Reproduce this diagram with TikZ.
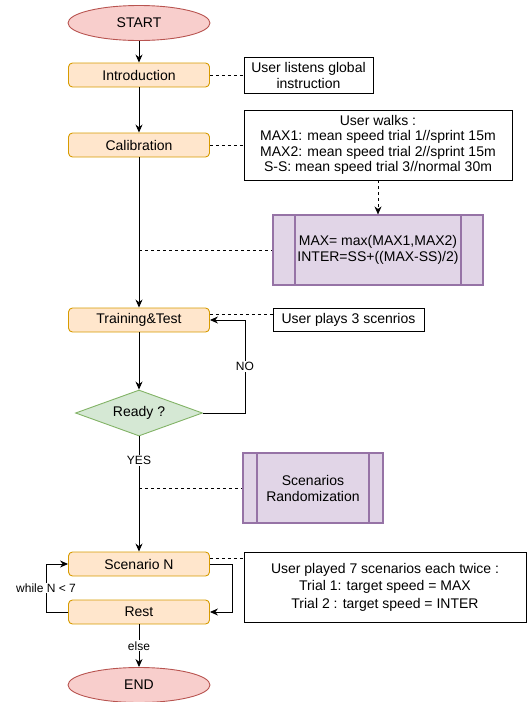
\documentclass[tikz,border=0pt]{standalone}
\usepackage{fontspec}
\setmainfont{Liberation Sans}
\usetikzlibrary{shapes.geometric,arrows.meta}
\definecolor{stepfill}{HTML}{FFE6CC}
\definecolor{stepdraw}{HTML}{D79B00}
\definecolor{termfill}{HTML}{F8CECC}
\definecolor{termdraw}{HTML}{B85450}
\definecolor{askfill}{HTML}{D5E8D4}
\definecolor{askdraw}{HTML}{82B366}
\definecolor{calcfill}{HTML}{E1D5E7}
\definecolor{calcdraw}{HTML}{9673A6}
\begin{document}
\begin{tikzpicture}[x=1pt,y=-1pt,
        font=\fontsize{14}{16}\selectfont,
        line width=0.9pt,
        >={Stealth[length=8pt,width=7pt]},
        stepbox/.style={draw=stepdraw,fill=stepfill,rounded corners=4pt,
            minimum width=141pt,minimum height=24pt,inner sep=0pt},
        termbox/.style={ellipse,draw=termdraw,fill=termfill,
            minimum width=142pt,minimum height=35pt,inner sep=0pt},
        askbox/.style={diamond,draw=askdraw,fill=askfill,aspect=2.76,
            minimum width=127pt,minimum height=46pt,inner sep=0pt},
        notebox/.style={draw,fill=white,align=center,inner sep=0pt,line width=0.8pt},
        calcbox/.style={draw=calcdraw,fill=calcfill,align=center,inner sep=0pt,
            line width=1.2pt,
            path picture={\draw[calcdraw,line width=1.2pt]
                ([xshift=#1]path picture bounding box.north west) --
                ([xshift=#1]path picture bounding box.south west)
                ([xshift=-#1]path picture bounding box.north east) --
                ([xshift=-#1]path picture bounding box.south east);}},
        lbl/.style={fill=white,inner sep=1pt,font=\fontsize{12}{14}\selectfont}]
    \useasboundingbox (0,0) rectangle (527,702);

    % main flow
    \node[termbox] (start) at (139,23) {START};
    \node[stepbox] (intro) at (139,75) {Introduction};
    \node[stepbox] (calib) at (139,145) {Calibration};
    \node[stepbox] (train) at (139,320) {Training\&Test};
    \node[askbox] (ready) at (139,413) {Ready ?};
    \node[stepbox] (scen) at (139,564) {Scenario N};
    \node[stepbox] (rest) at (139,612) {Rest};
    \node[termbox] (end) at (139,685) {END};

    % side notes
    \node[notebox,minimum width=129pt,minimum height=36pt] (listen) at (308.5,75)
        {User listens global\\instruction};
    \node[notebox,minimum width=268pt,minimum height=70pt,
        font=\fontsize{14}{15.5}\selectfont] (walks) at (378,145)
        {User walks :\\MAX1: mean speed trial 1//sprint 15m\\
         MAX2: mean speed trial 2//sprint 15m\\S-S: mean speed trial 3//normal 30m};
    \node[calcbox=22pt,minimum width=210pt,minimum height=70pt] (maxbox) at (378,250)
        {MAX= max(MAX1,MAX2)\\INTER=SS+((MAX-SS)/2)};
    \node[notebox,minimum width=151pt,minimum height=23pt] (plays) at (348.5,319.5)
        {User plays 3 scenrios};
    \node[calcbox=14pt,minimum width=140pt,minimum height=70pt] (random) at (313,488)
        {Scenarios\\Randomization};
    \node[notebox,minimum width=282pt,minimum height=70pt,
        font=\fontsize{14}{17.5}\selectfont] (played) at (385,587)
        {User played 7 scenarios each twice :\\Trial 1: target speed = MAX\\
         Trial 2 : target speed = INTER};

    % arrows
    \draw[->] (start) -- (intro);
    \draw[->] (intro) -- (calib);
    \draw[->] (calib) -- (train);
    \draw[->] (train) -- (ready);
    \draw[->] (ready) -- node[lbl,pos=0.21] {YES} (scen);
    \draw[->] (ready.east) -- ++(42,0) |- node[lbl,pos=0.25] {NO} (train.east);
    \draw[->] (scen.east) -- ++(22,0) |- (rest.east);
    \draw[->] (rest.west) -- ++(-22,0) |- node[lbl,pos=0.25] {while N < 7} (scen.west);
    \draw[->] (rest) -- node[lbl] {else} (end);

    % dashed links
    \draw[dashed,line width=0.6pt] (intro.east) -- (listen.west);
    \draw[dashed,line width=0.6pt] (calib.east) -- (walks.west);
    \draw[dashed,line width=0.6pt,->] (walks.south) -- (maxbox.north);
    \draw[dashed,line width=0.6pt] (calib |- maxbox) -- (maxbox.west);
    \draw[dashed,line width=0.6pt] ([yshift=6pt]train.east) -- ([yshift=6pt]train.east -| plays.west);
    \draw[dashed,line width=0.6pt] (ready |- random) -- (random.west);
    \draw[dashed,line width=0.6pt] ([yshift=6pt]scen.east) -- ([yshift=6pt]scen.east -| played.west);
\end{tikzpicture}
\end{document}
